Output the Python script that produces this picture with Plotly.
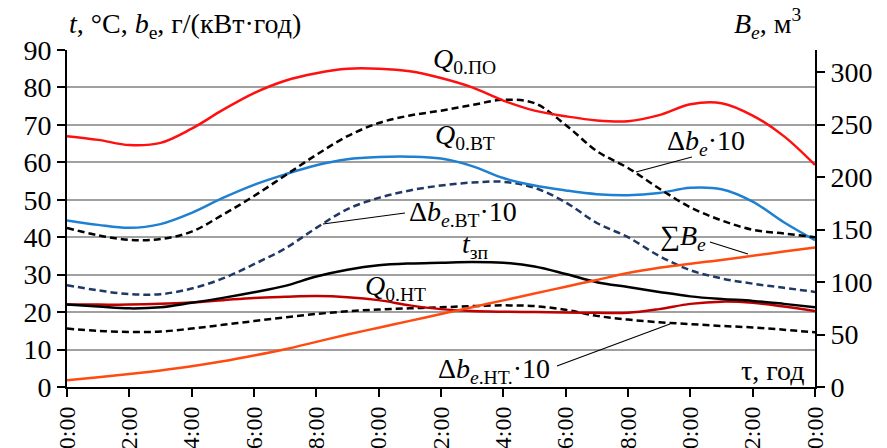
import plotly.graph_objects as go

hours = list(range(0, 25))
tick_hours = list(range(0, 25, 2))
tick_labels = ["0:00", "2:00", "4:00", "6:00", "8:00", "10:00", "12:00",
               "14:00", "16:00", "18:00", "20:00", "22:00", "0:00"]

q0_po = [67, 66, 64.6, 65.2, 69, 74, 78.5, 81.8, 83.8, 85, 85, 84.3, 82.5,
         80, 76.5, 73.8, 72.3, 71.2, 71, 72.6, 75.5, 75.8, 72.5, 67, 59.3]
db_e = [42.5, 40.5, 39.3, 39.5, 41.5, 46, 51, 56.5, 62, 67, 70.5, 72.5, 73.8,
        75.3, 76.7, 75.8, 70, 63, 58.5, 53, 48, 44.5, 42, 41, 40]
q0_vt = [44.5, 43.3, 42.5, 43.5, 46.5, 50.5, 54, 56.8, 59.2, 60.8, 61.4, 61.5, 61,
         59, 55.8, 53.8, 52.5, 51.5, 51.2, 51.8, 53.2, 52.8, 49.5, 44, 39.2]
db_e_vt = [27.2, 25.8, 24.8, 24.8, 26.3, 29, 32.8, 37, 42.5, 47.5, 50.5, 52.5, 53.8,
           54.6, 54.8, 53.2, 49.3, 43.8, 40, 35, 31.2, 29, 27.6, 26.5, 25.4]
t_zp = [22, 21.5, 21, 21.3, 22.5, 23.8, 25.3, 27, 29.5, 31.3, 32.5, 33, 33.2,
        33.4, 33.2, 32.2, 30.2, 28, 26.7, 25.4, 24.2, 23.5, 23, 22.2, 21.3]
q0_nt = [22, 22, 22, 22.2, 22.6, 23.2, 23.8, 24.1, 24.3, 24, 23.2, 21.8, 20.8,
         20.3, 20.1, 20, 19.9, 19.8, 19.8, 20.8, 22.2, 22.8, 22.5, 21.5, 20.3]
db_e_nt = [15.6, 15, 14.7, 14.8, 15.6, 16.6, 17.6, 18.6, 19.5, 20.2, 20.7, 21, 21.3,
           21.6, 21.8, 21.6, 20.6, 19, 18, 17.3, 16.8, 16.3, 15.9, 15.3, 14.6]
sum_b_e = [6.5, 9.3, 12.3, 15.8, 19.8, 24.5, 30, 36, 43, 50, 56.5, 63, 69.5,
           76, 82.5, 89, 95.5, 102, 108.5, 113.5, 117.5, 121, 125, 129, 133]

SERIF = "Liberation Serif, Times New Roman, serif"
LW = 2.5
DASH = "7px,4px"

fig = go.Figure()

def add(y, color, dash="solid", axis="y"):
    fig.add_trace(go.Scatter(x=hours, y=y, mode="lines", yaxis=axis,
                             line=dict(color=color, width=LW, dash=dash,
                                       shape="spline", smoothing=1),
                             showlegend=False, hoverinfo="skip"))

add(db_e_nt, "black", DASH)
add(q0_nt, "#C00000")
add(t_zp, "black")
add(db_e_vt, "#1F3864", DASH)
add(q0_vt, "#1F7FD0")
add(db_e, "black", DASH)
add(q0_po, "#FF1010")
add(sum_b_e, "#FF4A10", axis="y2")

fig.update_layout(
    width=887, height=448,
    margin=dict(l=59, r=80, t=42, b=69),
    paper_bgcolor="white", plot_bgcolor="white",
    font=dict(family=SERIF, size=28, color="black"),
    xaxis=dict(range=[0, 24], tickvals=tick_hours, ticktext=tick_labels,
               tickangle=-90, ticks="outside", ticklen=8, tickwidth=2,
               tickcolor="black", showline=True, linecolor="black", linewidth=2,
               showgrid=False, zeroline=False, automargin=False,
               tickfont=dict(family=SERIF, size=24)),
    yaxis=dict(range=[0, 90], dtick=10, ticks="outside", ticklen=8, tickwidth=2,
               tickcolor="black", showline=True, linecolor="black", linewidth=2,
               showgrid=True, gridcolor="#A0A0A0", gridwidth=2, zeroline=False,
               automargin=False, tickfont=dict(family=SERIF, size=28)),
    yaxis2=dict(range=[0, 321], tickvals=[0, 50, 100, 150, 200, 250, 300],
                overlaying="y", side="right", ticks="outside", ticklen=8,
                tickwidth=2, tickcolor="black", showline=True, linecolor="black",
                linewidth=2, showgrid=False, zeroline=False, automargin=False,
                tickfont=dict(family=SERIF, size=28)),
)

def ann(text, x, y, xanchor="center", xref="x", yref="y", size=28):
    fig.add_annotation(text=text, x=x, y=y, xref=xref, yref=yref, showarrow=False,
                       xanchor=xanchor, yanchor="middle",
                       font=dict(family=SERIF, size=size, color="black"))

ann("<i>t</i>, °C, <i>b</i><sub>e</sub>, г/(кВт·год)", 0.0, 1.074,
    xanchor="left", xref="paper", yref="paper")
ann("<i>B<sub>e</sub></i>, м<sup>3</sup>", 0.937, 1.078, xref="paper", yref="paper")

ann("<i>Q</i><sub>0.ПО</sub>", 12.75, 87.2)
ann("<i>Q</i><sub>0.ВТ</sub>", 12.77, 66.8)
ann("Δ<i>b<sub>e</sub></i>·10", 20.5, 65.2)
ann("Δ<i>b<sub>e</sub></i><sub>.ВТ</sub>·10", 12.7, 46.3)
ann("<i>t</i><sub>зп</sub>", 13.1, 37.7)
ann("∑<i>B<sub>e</sub></i>", 19.75, 40.0)
ann("<i>Q</i><sub>0.НТ</sub>", 10.55, 26.7)
ann("Δ<i>b<sub>e</sub></i><sub>.НТ.</sub>·10", 13.7, 4.5)
ann("τ, год", 23.7, 4.5, xanchor="right")

def leader(x0, y0, x1, y1):
    fig.add_shape(type="line", x0=x0, y0=y0, x1=x1, y1=y1, xref="x", yref="y",
                  line=dict(color="black", width=1.2))

def px(hx, vy):
    return (hx - 67) / 31.17, (387 - vy) / 3.744

for (a, b, c, d) in [(636, 172, 692, 157), (323, 224, 405, 213),
                     (710, 242, 748, 254), (557, 366, 670, 324)]:
    x0, y0 = px(a, b)
    x1, y1 = px(c, d)
    leader(x0, y0, x1, y1)

fig.write_html("out.html")
